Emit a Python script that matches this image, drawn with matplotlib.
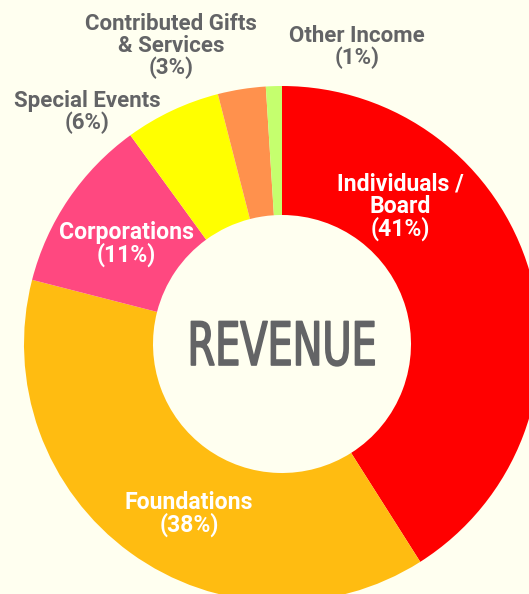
import matplotlib
matplotlib.use("Agg")
import matplotlib.pyplot as plt
from matplotlib import font_manager, patheffects
from matplotlib.transforms import Affine2D

# revenue breakdown, clockwise from 12 o'clock
categories = ["Individuals /\nBoard", "Foundations", "Corporations",
              "Special Events", "Contributed Gifts\n& Services", "Other Income"]
shares = [41, 38, 11, 6, 3, 1]
colors = ["#FF0000", "#FFBC11", "#FF4880", "#FFFF00", "#FF914D", "#C5FF6E"]

# label spots in pixels (x, y from top) and whether label sits on the ring
label_pos = [(400, 207), (189, 514), (126, 244), (87, 112), (171, 46), (357, 47)]
on_ring = [True, True, True, False, False, False]

W, H = 529, 594
bg = "#FFFFF0"
grey = "#636466"


class Squeeze(patheffects.AbstractPathEffect):
    """Narrow the glyphs horizontally around x0 (display px), with a thin outline."""

    def __init__(self, sx, x0, lw=0.0):
        super().__init__()
        self.sx = sx
        self.x0 = x0
        self.lw = lw

    def draw_path(self, renderer, gc, tpath, affine, rgbFace=None):
        squeeze = Affine2D().translate(-self.x0, 0).scale(self.sx, 1).translate(self.x0, 0)
        gc0 = renderer.new_gc()
        gc0.copy_properties(gc)
        if self.lw and rgbFace is not None:
            gc0.set_linewidth(self.lw)
            gc0.set_foreground(rgbFace)
        renderer.draw_path(gc0, tpath, affine + squeeze, rgbFace)
        gc0.restore()


# condensed DejaVu for the centre title, if it is there
title_font = font_manager.FontProperties(family="DejaVu Sans", size=43)
for f in font_manager.fontManager.ttflist:
    if f.name == "DejaVu Sans" and f.stretch == "condensed" and f.weight in (400, "normal") \
            and f.style == "normal":
        title_font = font_manager.FontProperties(fname=f.fname, size=43)
        break

fig = plt.figure(figsize=(W / 100, H / 100), dpi=100, facecolor=bg)
ax = fig.add_axes([0, 0, 1, 1])
ax.set_facecolor(bg)

cx, cy, r = 282, H - 344, 258
ax.pie(shares, colors=colors, startangle=90, counterclock=False,
       center=(cx, cy), radius=r, frame=True,
       wedgeprops=dict(width=r - 129, linewidth=0))
ax.set_xlim(0, W)
ax.set_ylim(0, H)
ax.axis("off")

for name, pct, (x, y), inside in zip(categories, shares, label_pos, on_ring):
    ax.text(x, H - y, f"{name}\n({pct}%)", ha="center", va="center",
            fontsize=16.6 if inside else 16, fontweight="bold",
            family=["Roboto", "DejaVu Sans"],
            color="white" if inside else grey, linespacing=0.96)

title = ax.text(cx, H - 365, "REVENUE", ha="center", va="baseline",
                fontproperties=title_font, color=grey)
natural = title.get_window_extent(renderer=fig.canvas.get_renderer()).width
x0 = ax.transData.transform((cx, 0))[0]
title.set_path_effects([Squeeze(189 / natural, x0, lw=1.2)])

fig.savefig("out.png", dpi=100, facecolor=bg)
